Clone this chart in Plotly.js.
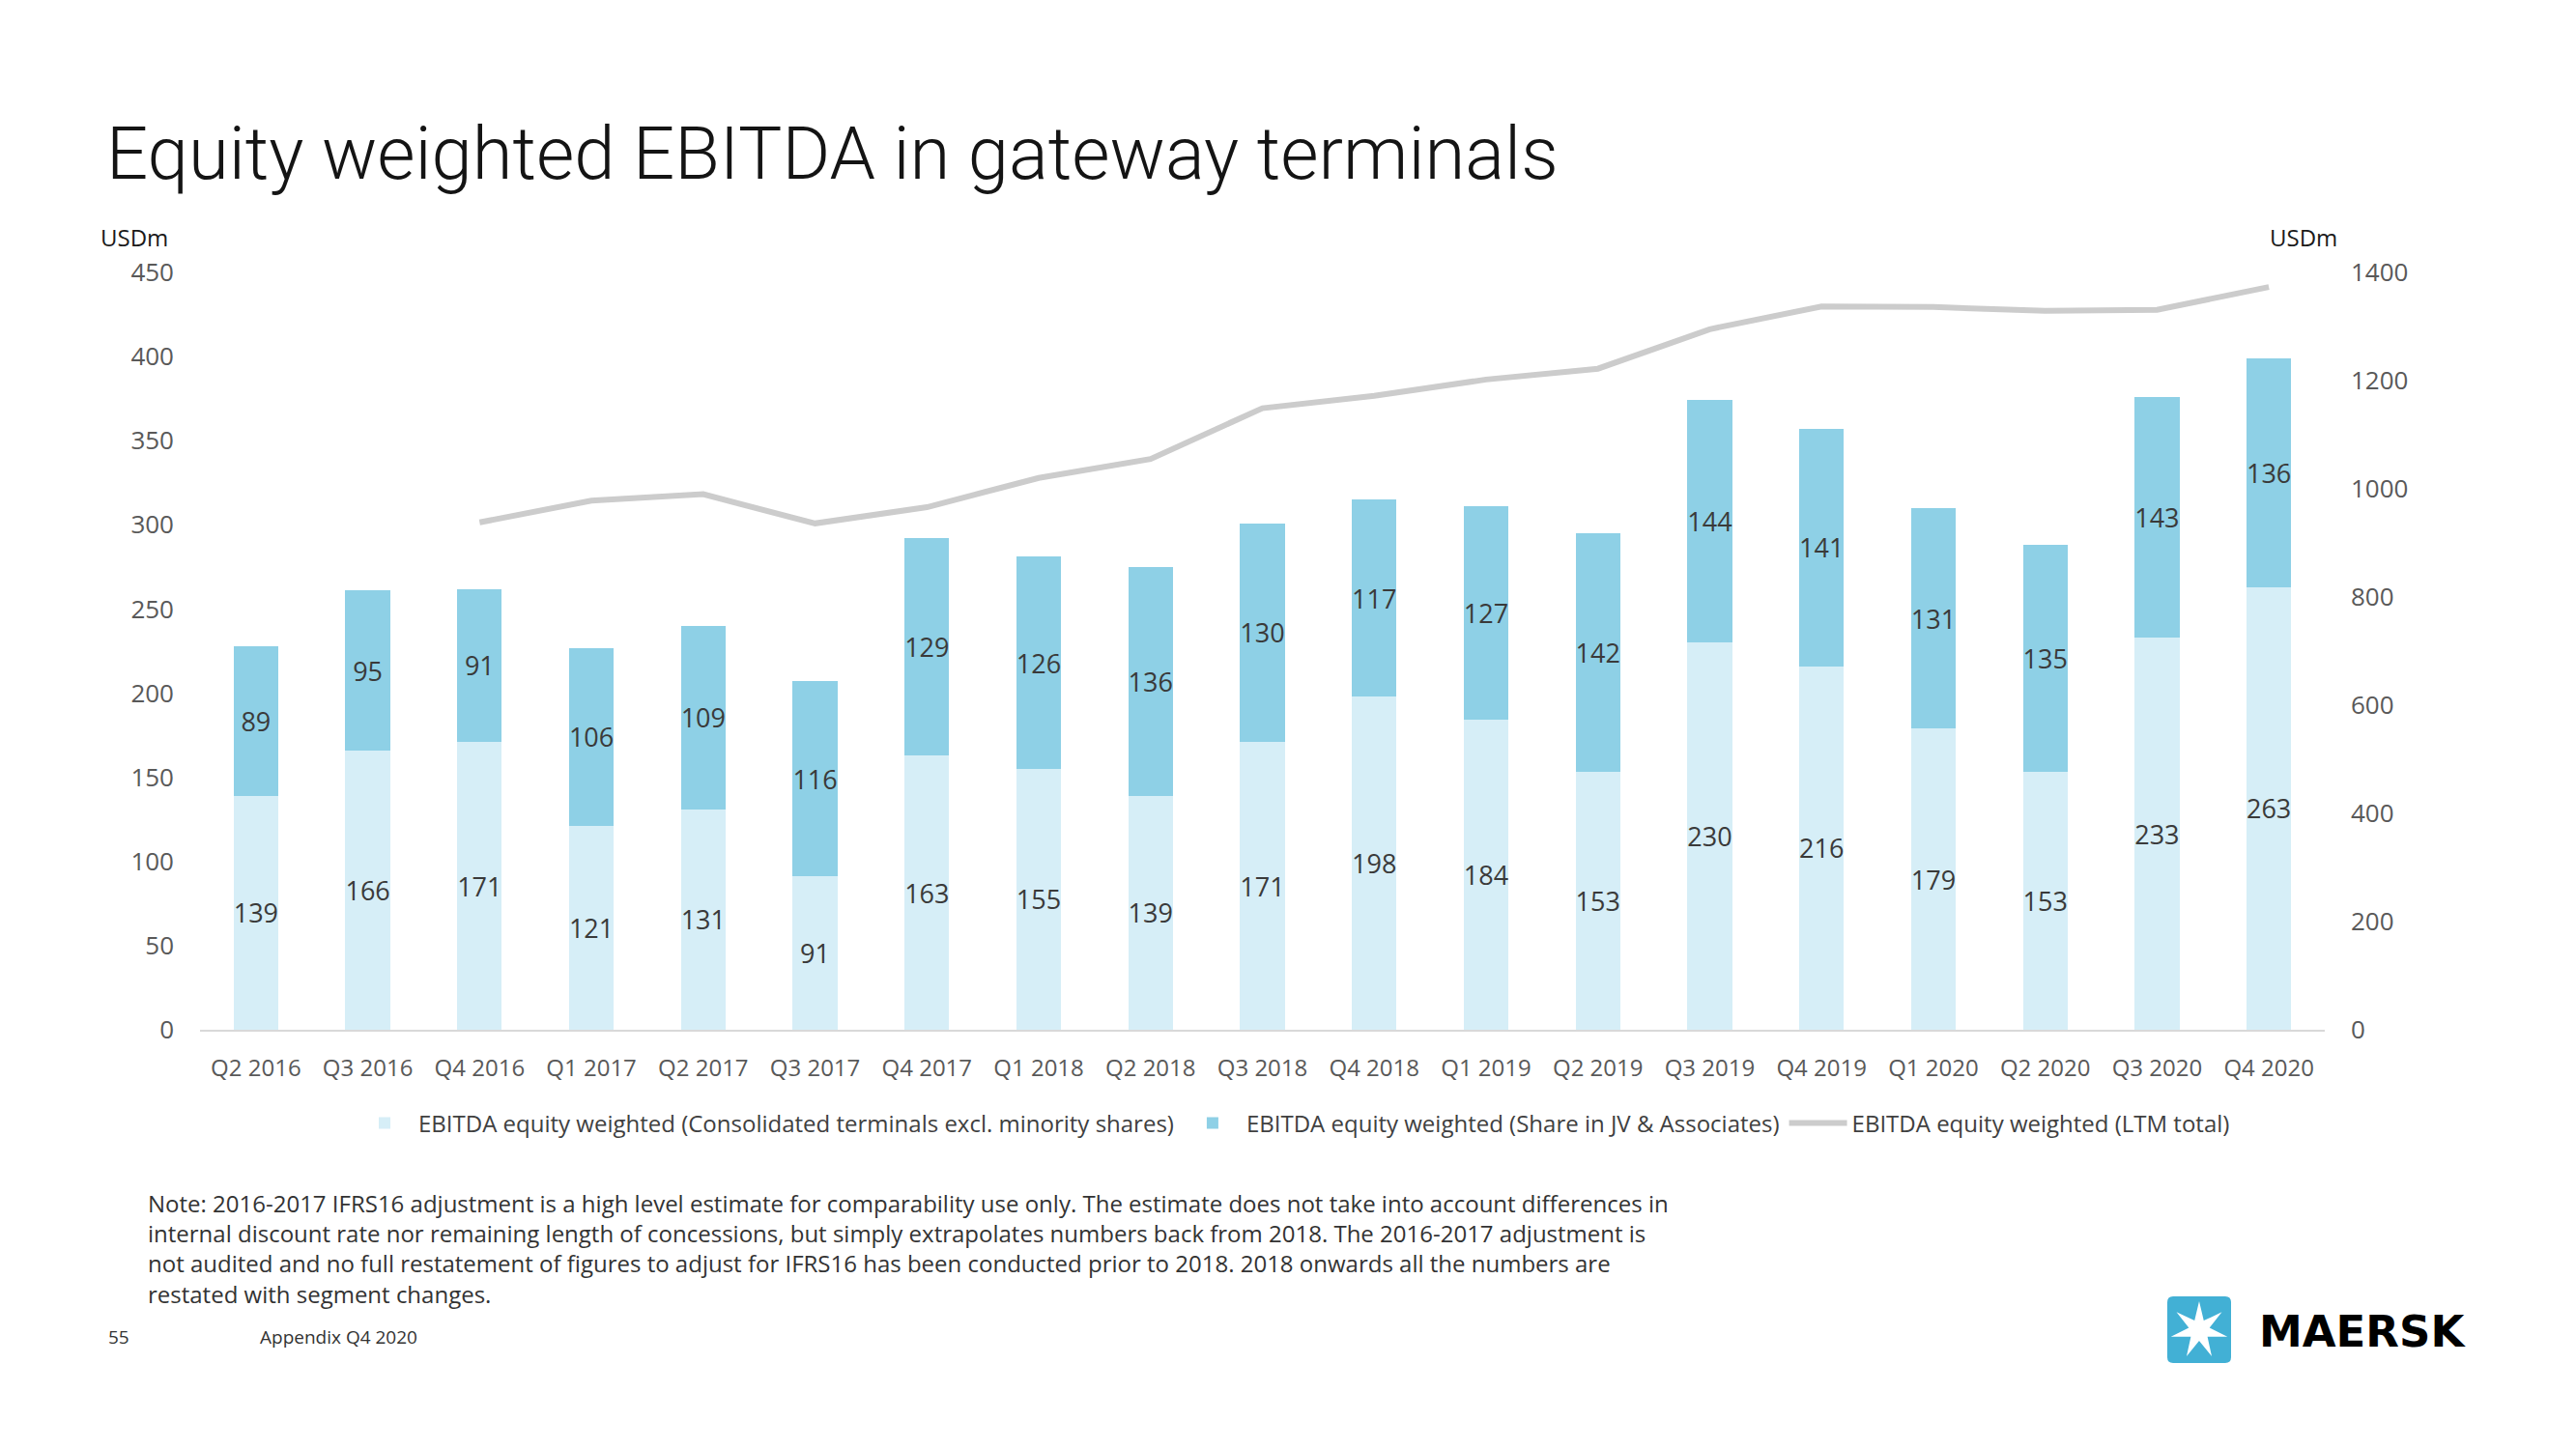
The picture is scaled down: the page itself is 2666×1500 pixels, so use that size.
<!DOCTYPE html>
<html>
<head>
<meta charset="utf-8">
<script src="https://cdn.plot.ly/plotly-3.0.1.min.js"></script>
<style>html,body{margin:0;padding:0;background:#fff;}#chart{width:2666px;height:1500px;}</style>
</head>
<body>
<div id="chart"></div>
<script>
// ---- data ----
const quarters = ['Q2 2016','Q3 2016','Q4 2016','Q1 2017','Q2 2017','Q3 2017','Q4 2017','Q1 2018','Q2 2018','Q3 2018','Q4 2018','Q1 2019','Q2 2019','Q3 2019','Q4 2019','Q1 2020','Q2 2020','Q3 2020','Q4 2020'];
const consolidated = [139,166,171,121,131,91,163,155,139,171,198,184,153,230,216,179,153,233,263];
const jvAssociates = [89,95,91,106,109,116,129,126,136,130,117,127,142,144,141,131,135,143,136];
const ltmTotal = [null,null,938,978,990,936,966,1020,1055,1149,1172,1202,1222,1295,1337,1336,1329,1331,1373];
const seriesNames = ['EBITDA equity weighted (Consolidated terminals excl. minority shares)','EBITDA equity weighted (Share in JV & Associates)','EBITDA equity weighted (LTM total)'];
const leftTicks = [0,50,100,150,200,250,300,350,400,450];
const rightTicks = [0,200,400,600,800,1000,1200,1400];
const titleText = 'Equity weighted EBITDA in gateway terminals';
const noteText = 'Note: 2016-2017 IFRS16 adjustment is a high level estimate for comparability use only. The estimate does not take into account differences in<br>internal discount rate nor remaining length of concessions, but simply extrapolates numbers back from 2018. The 2016-2017 adjustment is<br>not audited and no full restatement of figures to adjust for IFRS16 has been conducted prior to 2018. 2018 onwards all the numbers are<br>restated with segment changes.';

// ---- geometry helpers ----
const W = 2666, H = 1500;
const L = 207, R = 2406, T = 282, B = 1066;
const PW = R - L, PH = B - T;
const px = X => (X - L) / PW;
const py = Y => (B - Y) / PH;

const FONT = '"Open Sans", sans-serif';
const labelFont = {family: FONT, size: 27, color: '#3a3a3a'};

const traces = [
  {type:'bar', name: seriesNames[0], x: quarters, y: consolidated, text: consolidated.map(String),
   marker:{color:'#D6EEF7'}, textposition:'inside', insidetextanchor:'middle', textangle:0,
   constraintext:'none', insidetextfont: labelFont, hoverinfo:'skip', yaxis:'y'},
  {type:'bar', name: seriesNames[1], x: quarters, y: jvAssociates, text: jvAssociates.map(String),
   marker:{color:'#8ED0E6'}, textposition:'inside', insidetextanchor:'middle', textangle:0,
   constraintext:'none', insidetextfont: labelFont, hoverinfo:'skip', yaxis:'y'},
  {type:'scatter', mode:'lines', name: seriesNames[2], x: quarters, y: ltmTotal,
   line:{color:'#CCCCCC', width:6}, yaxis:'y2', hoverinfo:'skip', connectgaps:false}
];

// Maersk logo star path
function starPath(cx, cy, ro, ri, n) {
  let d = '';
  for (let i = 0; i < 2*n; i++) {
    const r = i % 2 === 0 ? ro : ri;
    const a = -Math.PI/2 + i * Math.PI / n;
    const X = cx + r*Math.cos(a), Y = cy + r*Math.sin(a);
    d += (i === 0 ? 'M' : 'L') + px(X).toFixed(5) + ',' + py(Y).toFixed(5);
  }
  return d + 'Z';
}
function roundRect(x0, y0, x1, y1, r) {
  const p = (X, Y) => px(X).toFixed(5) + ',' + py(Y).toFixed(5);
  return 'M' + p(x0+r,y0) + 'L' + p(x1-r,y0) + 'Q' + p(x1,y0) + ' ' + p(x1,y0+r) +
         'L' + p(x1,y1-r) + 'Q' + p(x1,y1) + ' ' + p(x1-r,y1) +
         'L' + p(x0+r,y1) + 'Q' + p(x0,y1) + ' ' + p(x0,y1-r) +
         'L' + p(x0,y0+r) + 'Q' + p(x0,y0) + ' ' + p(x0+r,y0) + 'Z';
}

const layout = {
  width: W, height: H,
  margin: {l: L, r: W - R, t: T, b: H - B, pad: 0},
  paper_bgcolor: '#fff', plot_bgcolor: '#fff',
  barmode: 'stack', bargap: 0.6,
  uniformtext: {mode: 'show', minsize: 27},
  showlegend: true,
  title: {text: titleText, x: 110/W, xref: 'container', xanchor: 'left',
          y: 1 - 158/H, yref: 'container', yanchor: 'middle',
          font: {family: 'Roboto, sans-serif', size: 76, weight: 300, color: '#141414'}},
  xaxis: {type: 'category', showline: true, linecolor: '#D9D9D9', linewidth: 2,
          ticks: '', showgrid: false, zeroline: false,
          tickfont: {family: FONT, size: 24, color: '#595959'}, ticklabelstandoff: 17,
          fixedrange: true},
  yaxis: {range: [0, 450], tickvals: leftTicks, showgrid: false, zeroline: false, showline: false,
          ticks: '', tickfont: {family: FONT, size: 26, color: '#595959'}, ticklabelstandoff: 26,
          fixedrange: true},
  yaxis2: {range: [0, 1400], tickvals: rightTicks, overlaying: 'y', side: 'right',
           showgrid: false, zeroline: false, showline: false, ticks: '',
           tickfont: {family: FONT, size: 26, color: '#595959'}, ticklabelstandoff: 26,
           fixedrange: true},
  legend: {orientation: 'h', x: px(1338), xanchor: 'center', y: py(1163), yanchor: 'middle',
           traceorder: 'normal', font: {family: FONT, size: 24, color: '#404040'},
           itemwidth: 60, bgcolor: 'rgba(0,0,0,0)'},
  annotations: [
    {text: 'USDm', xref: 'paper', yref: 'paper', x: px(102), y: py(245), xanchor: 'left', yanchor: 'middle',
     showarrow: false, font: {family: FONT, size: 24, color: '#1a1a1a'}},
    {text: 'USDm', xref: 'paper', yref: 'paper', x: px(2421), y: py(245), xanchor: 'right', yanchor: 'middle',
     showarrow: false, font: {family: FONT, size: 24, color: '#1a1a1a'}},
    {text: noteText, xref: 'paper', yref: 'paper', x: px(151), y: py(1227), xanchor: 'left', yanchor: 'top',
     align: 'left', showarrow: false, font: {family: FONT, size: 24, color: '#333333'}},
    {text: '55', xref: 'paper', yref: 'paper', x: px(110), y: py(1384), xanchor: 'left', yanchor: 'middle',
     showarrow: false, font: {family: FONT, size: 19, color: '#333333'}},
    {text: 'Appendix Q4 2020', xref: 'paper', yref: 'paper', x: px(267), y: py(1384), xanchor: 'left', yanchor: 'middle',
     showarrow: false, font: {family: FONT, size: 19, color: '#333333'}},
    {text: '<b>MAERSK</b>', xref: 'paper', yref: 'paper', x: px(2336), y: py(1378), xanchor: 'left', yanchor: 'middle',
     showarrow: false, font: {family: '"DejaVu Sans", sans-serif', size: 45, color: '#000000'}}
  ],
  shapes: [
    {type: 'path', xref: 'paper', yref: 'paper', path: roundRect(2243, 1342, 2309, 1411, 6),
     fillcolor: '#42B0D5', line: {width: 0}},
    {type: 'path', xref: 'paper', yref: 'paper', path: starPath(2276, 1377, 30, 11, 7),
     fillcolor: '#FFFFFF', line: {width: 0}}
  ]
};

Plotly.newPlot('chart', traces, layout, {staticPlot: true, displayModeBar: false});
</script>
</body>
</html>
